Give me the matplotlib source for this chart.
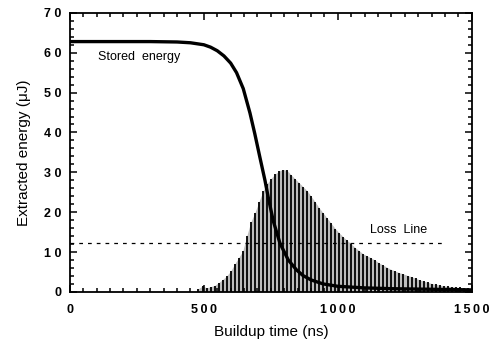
import matplotlib
matplotlib.use('Agg')
import matplotlib.pyplot as plt
from matplotlib.ticker import MultipleLocator

# stored energy curve (ns, uJ)
stored_ns = [0, 100, 200, 300, 400, 450, 500, 525, 550, 575, 600, 622, 647, 672, 690,
             709, 728, 740, 759, 784, 815, 846, 870, 900, 945, 1000, 1100, 1200, 1300, 1400, 1500]
stored_uj = [62.8, 62.8, 62.8, 62.8, 62.7, 62.5, 62.0, 61.4, 60.5, 59.2, 57.4, 55.0, 51.0, 44.9, 39.7,
             33.8, 28.0, 23.8, 17.8, 12.2, 8.0, 5.5, 4.1, 3.0, 2.0, 1.4, 1.0, 0.8, 0.7, 0.6, 0.5]

# extracted pulses (one spike per round trip)
spike_ns = [480, 495, 510, 525, 540, 555, 570, 585, 600, 615, 630, 645, 660, 675, 690,
            705, 720, 735, 750, 765, 780, 795, 810, 825, 840, 855, 870, 885, 900, 915,
            930, 945, 960, 975, 990, 1005, 1020, 1035, 1050, 1065, 1080, 1095, 1110, 1125, 1140,
            1155, 1170, 1185, 1200, 1215, 1230, 1245, 1260, 1275, 1290, 1305, 1320, 1335, 1350, 1365,
            1380, 1395, 1410, 1425, 1440, 1455, 1470, 1485, 1500]
spike_uj = [0.8, 1.5, 1.0, 1.3, 1.6, 2.3, 3.1, 4.0, 5.2, 7.0, 8.6, 10.2, 14.0, 17.5, 19.8,
            22.5, 25.2, 27.0, 28.4, 29.5, 30.3, 30.7, 30.5, 29.4, 28.4, 27.4, 26.4, 25.4, 24.0, 22.6,
            21.1, 19.8, 18.5, 17.2, 15.9, 14.8, 13.8, 12.9, 12.0, 11.1, 10.3, 9.5, 9.0, 8.5, 7.9,
            7.2, 6.7, 6.1, 5.6, 5.2, 4.8, 4.5, 4.1, 3.8, 3.4, 3.0, 2.7, 2.4, 2.1, 1.9,
            1.7, 1.5, 1.4, 1.3, 1.2, 1.1, 1.0, 0.9, 0.8]

loss_ns = [0, 1400]
loss_uj = [12.2, 12.2]

xticks = [0, 500, 1000, 1500]
xtick_labels = ['0', '5\u20090\u20090', '1\u20090\u20090\u20090', '1\u20095\u20090\u20090']
yticks = [0, 10, 20, 30, 40, 50, 60, 70]
ytick_labels = ['0', '1 0', '2 0', '3 0', '4 0', '5 0', '6 0', '7 0']

plt.rcParams['font.family'] = ['Liberation Sans', 'DejaVu Sans']

fig = plt.figure(figsize=(4.92, 3.39), dpi=100)
ax = fig.add_axes([0.142, 0.139, 0.817, 0.823])

ax.fill_between(spike_ns, 0, spike_uj, color='#bdbdbd', lw=0, zorder=1)
ax.vlines(spike_ns, 0, spike_uj, color='black', lw=1.3, zorder=2)
ax.plot(stored_ns, stored_uj, color='black', lw=2.4, solid_capstyle='butt', zorder=3)
ax.plot(loss_ns, loss_uj, color='black', lw=0.9, ls=(0, (3, 4)), zorder=3)

ax.text(104, 59, 'Stored  energy', fontsize=9, ha='left', va='center')
ax.text(1120, 15.5, 'Loss  Line', fontsize=9, ha='left', va='center')

ax.set_xlim(0, 1500)
ax.set_ylim(0, 70)
ax.set_xticks(xticks)
ax.set_xticklabels(xtick_labels, fontsize=9, fontweight='bold')
ax.set_yticks(yticks)
ax.set_yticklabels(ytick_labels, fontsize=9, fontweight='bold')
ax.xaxis.set_minor_locator(MultipleLocator(50))
ax.yaxis.set_minor_locator(MultipleLocator(2))
ax.tick_params(which='both', direction='in', top=True, right=True, width=1.1)
ax.tick_params(which='major', length=5)
ax.tick_params(which='minor', length=3)
ax.tick_params(axis='x', which='major', pad=9)
ax.tick_params(axis='y', which='major', pad=6)
for s in ax.spines.values():
    s.set_linewidth(1.3)

ax.set_xlabel('Buildup time (ns)', fontsize=11, labelpad=6)
ax.set_ylabel('Extracted energy (\u03bcJ)', fontsize=11, labelpad=9)

plt.savefig('out.png', dpi=100)
plt.close()
